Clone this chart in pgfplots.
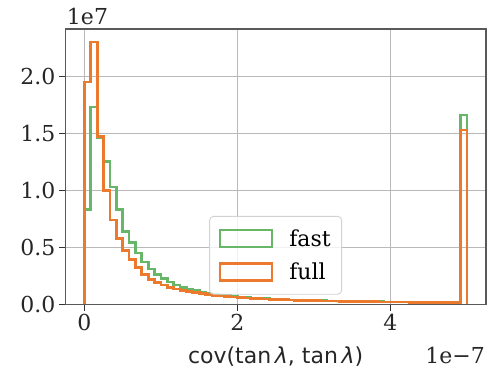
\documentclass[border=0pt]{standalone}
\usepackage{fontspec}
\setmainfont{DejaVu Serif}
\newfontfamily\dvsans{DejaVu Sans}
\usepackage{pgfplots}
\usepackage{pgfplotstable}
\pgfplotsset{compat=1.18}
\definecolor{cfast}{RGB}{104,182,104}
\definecolor{cfull}{RGB}{236,122,44}

\pgfplotstableread{
x y
0 0
0 0.83
0.0833 1.73
0.1667 1.46
0.25 1.25
0.3333 1.03
0.4167 0.83
0.5 0.64
0.5833 0.54
0.6667 0.45
0.75 0.37
0.8333 0.31
0.9167 0.26
1.0 0.225
1.0833 0.195
1.1667 0.17
1.25 0.15
1.3333 0.134
1.4167 0.12
1.5 0.108
1.5833 0.098
1.6667 0.089
1.75 0.081
1.8333 0.075
1.9167 0.069
2.0 0.064
2.0833 0.059
2.1667 0.055
2.25 0.052
2.3333 0.049
2.4167 0.046
2.5 0.043
2.5833 0.041
2.6667 0.039
2.75 0.037
2.8333 0.035
2.9167 0.034
3.0 0.032
3.0833 0.031
3.1667 0.030
3.25 0.028
3.3333 0.027
3.4167 0.026
3.5 0.025
3.5833 0.024
3.6667 0.023
3.75 0.023
3.8333 0.022
3.9167 0.021
4.0 0.020
4.0833 0.020
4.1667 0.019
4.25 0.018
4.3333 0.018
4.4167 0.017
4.5 0.017
4.5833 0.016
4.6667 0.016
4.75 0.015
4.8333 0.015
4.9167 1.66
5.0 1.66
5.0 0
}\fast

\pgfplotstableread{
x y
0 0
0 1.95
0.0833 2.30
0.1667 1.47
0.25 1.00
0.3333 0.74
0.4167 0.58
0.5 0.47
0.5833 0.39
0.6667 0.32
0.75 0.26
0.8333 0.22
0.9167 0.19
1.0 0.17
1.0833 0.15
1.1667 0.134
1.25 0.121
1.3333 0.110
1.4167 0.101
1.5 0.093
1.5833 0.086
1.6667 0.079
1.75 0.074
1.8333 0.069
1.9167 0.064
2.0 0.060
2.0833 0.056
2.1667 0.053
2.25 0.050
2.3333 0.047
2.4167 0.045
2.5 0.042
2.5833 0.040
2.6667 0.038
2.75 0.036
2.8333 0.035
2.9167 0.033
3.0 0.032
3.0833 0.030
3.1667 0.029
3.25 0.028
3.3333 0.027
3.4167 0.026
3.5 0.025
3.5833 0.024
3.6667 0.023
3.75 0.022
3.8333 0.021
3.9167 0.021
4.0 0.020
4.0833 0.019
4.1667 0.019
4.25 0.018
4.3333 0.018
4.4167 0.017
4.5 0.017
4.5833 0.016
4.6667 0.016
4.75 0.015
4.8333 0.015
4.9167 1.53
5.0 1.53
5.0 0
}\full

\begin{document}
\begin{tikzpicture}
\path[use as bounding box] (-65.3bp,-66.7bp) rectangle (427.7bp,304.3bp);
\begin{axis}[
  name=ax,
  at={(0,0)}, anchor=south west,
  scale only axis, width=420.7bp, height=275.3bp,
  xmin=-0.25, xmax=5.25, ymin=0, ymax=2.415,
  xtick={0,2,4}, ytick={0,0.5,1,1.5,2},
  scaled ticks=false,
  yticklabel style={/pgf/number format/.cd, fixed, fixed zerofill, precision=1},
  /pgf/number format/assume math mode=true,
  tick label style={font=\fontsize{22bp}{26bp}\selectfont, text=black!85},
  grid=major, major grid style={gray!55, line width=0.9bp},
  axis line style={black!65, line width=1.4bp},
  tick align=outside, major tick length=6.5bp,
  tick style={black!80, line width=1.2bp},
  tick pos=left,
  legend cell align=left,
  legend image code/.code={\draw[#1, sharp corners] (0bp,-8.5bp) rectangle (52bp,8.5bp);},
  legend style={at={(0.5,0.035)}, anchor=south, draw=gray!35, line width=0.9bp,
    rounded corners=4bp, fill=white, fill opacity=0.8, text opacity=1,
    font=\fontsize{22bp}{26bp}\selectfont, inner xsep=9bp, inner ysep=11bp,
    row sep=11.5bp, /tikz/every odd column/.append style={column sep=14bp}},
]
\addplot[cfast, line width=2.7bp, const plot mark left, line join=miter] table[x=x,y=y] {\fast};
\addlegendentry{fast}
\addplot[cfull, line width=2.7bp, const plot mark left, line join=miter] table[x=x,y=y] {\full};
\addlegendentry{full}
\end{axis}
\node[anchor=base west, inner sep=0pt, font=\fontsize{22bp}{26bp}\selectfont, text=black!85] at ([xshift=1.5bp, yshift=4bp]ax.north west) {1e7};
\node[anchor=base east, inner sep=0pt, font=\fontsize{22bp}{26bp}\selectfont, text=black!85] at ([xshift=-1bp, yshift=-58.7bp]ax.south east) {1e−7};
\node[anchor=base, inner sep=0pt, font=\dvsans\fontsize{22bp}{26bp}\selectfont, text=black!85] at ([yshift=-58.7bp]ax.south) {cov(tan\,\textit{λ}, tan\,\textit{λ})};
\end{tikzpicture}
\end{document}
